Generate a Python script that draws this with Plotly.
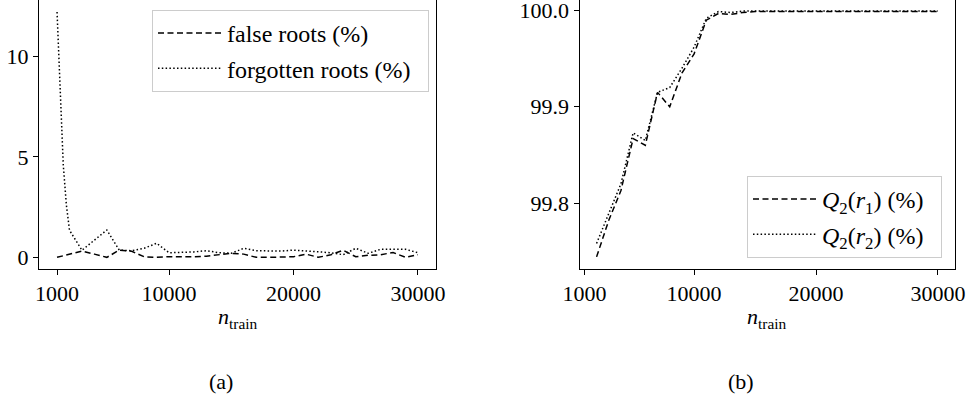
import plotly.graph_objects as go

# ---- data: left panel ----
x_false = [1000, 2000, 3000, 4000, 5000, 6000, 7000, 8000, 9000, 10000,
           11000, 12000, 13000, 14000, 15000, 16000, 17000, 18000, 19000, 20000,
           21000, 22000, 23000, 24000, 25000, 26000, 27000, 28000, 29000, 30000]
false_roots = [0.0, 0.16, 0.31, 0.16, 0.0, 0.36, 0.30, 0.03, 0.0, 0.03,
               0.02, 0.03, 0.06, 0.13, 0.2, 0.16, 0.0, 0.0, 0.03, 0.03,
               0.16, 0.0, 0.13, 0.35, 0.03, 0.1, 0.13, 0.24, 0.0, 0.13]

x_forgotten = [1000, 1250, 1500, 1750, 2000, 3000, 4000, 5000, 6000, 7000,
               8000, 9000, 10000, 11000, 12000, 13000, 14000, 15000, 16000, 17000,
               18000, 19000, 20000, 21000, 22000, 23000, 24000, 25000, 26000, 27000,
               28000, 29000, 30000]
forgotten_roots = [12.2, 8.0, 4.6, 2.6, 1.35, 0.35, 0.85, 1.36, 0.36, 0.33,
                   0.45, 0.7, 0.23, 0.25, 0.27, 0.33, 0.23, 0.2, 0.45, 0.33,
                   0.31, 0.31, 0.36, 0.31, 0.27, 0.23, 0.13, 0.45, 0.2, 0.4,
                   0.4, 0.4, 0.23]

# ---- data: right panel ----
x_q = [2000, 3000, 4000, 5000, 6000, 7000, 8000, 9000, 10000, 11000,
       12000, 13000, 14000, 15000, 16000, 17000, 18000, 19000, 20000, 21000,
       22000, 23000, 24000, 25000, 26000, 27000, 28000, 29000, 30000]
q2_r1 = [99.744, 99.782, 99.813, 99.867, 99.860, 99.915, 99.900, 99.935, 99.955, 99.990,
         99.997, 99.996, 99.998, 99.999, 99.999, 99.999, 99.999, 99.999, 99.999, 99.999,
         99.999, 99.999, 99.999, 99.999, 99.999, 99.999, 99.999, 99.999, 99.999]
q2_r2 = [99.758, 99.790, 99.820, 99.873, 99.865, 99.915, 99.920, 99.940, 99.962, 99.992,
         99.999, 99.998, 99.9995, 99.9995, 99.9995, 99.9995, 99.9995, 99.9995, 99.9995, 99.9995,
         99.9995, 99.9995, 99.9995, 99.9995, 99.9995, 99.9995, 99.9995, 99.9995, 99.9995]

x_ticks = [1000, 10000, 20000, 30000]
x_tick_labels = ["1000", "10000", "20000", "30000"]
left_y_ticks = [0, 5, 10]
left_y_labels = ["0", "5", "10"]
right_y_ticks = [99.8, 99.9, 100.0]
right_y_labels = ["99.8", "99.9", "100.0"]

W, H = 969, 400
FONT = "Liberation Serif"
FS = 22
LFS = 24
DASH = "6px,3.5px"
DOT = "1.5px,2.3px"
PAD = "&nbsp;&nbsp;"

fig = go.Figure()
fig.add_trace(go.Scatter(x=x_false, y=false_roots, mode="lines", name="false roots (%)" + PAD,
                         line=dict(color="black", width=1.5, dash=DASH), legendgroup="a",
                         xaxis="x", yaxis="y", legend="legend"))
fig.add_trace(go.Scatter(x=x_forgotten, y=forgotten_roots, mode="lines",
                         name="forgotten roots (%)" + PAD,
                         line=dict(color="black", width=1.5, dash=DOT), legendgroup="b",
                         xaxis="x", yaxis="y", legend="legend"))
fig.add_trace(go.Scatter(x=x_q, y=q2_r1, mode="lines",
                         name="<i>Q</i><sub>2</sub>(<i>r</i><sub>1</sub>) (%)" + PAD,
                         line=dict(color="black", width=1.5, dash=DASH), legendgroup="c",
                         xaxis="x2", yaxis="y2", legend="legend2"))
fig.add_trace(go.Scatter(x=x_q, y=q2_r2, mode="lines",
                         name="<i>Q</i><sub>2</sub>(<i>r</i><sub>2</sub>) (%)" + PAD,
                         line=dict(color="black", width=1.5, dash=DOT), legendgroup="d",
                         xaxis="x2", yaxis="y2", legend="legend2"))

def px_x(p):
    return p / W

def px_y(p):
    return 1 - p / H

axis_common = dict(showline=True, linecolor="black", linewidth=1, ticks="outside",
                   ticklen=5, tickwidth=1, tickcolor="black", showgrid=False,
                   zeroline=False, automargin=False, ticklabeloverflow="allow",
                   tickfont=dict(family=FONT, size=FS, color="black"))

legend_common = dict(bgcolor="rgba(255,255,255,0.8)", bordercolor="#cccccc", borderwidth=1,
                     font=dict(family=FONT, size=LFS, color="black"), itemwidth=64,
                     traceorder="grouped", tracegroupgap=1)

fig.update_layout(
    template="none",
    width=W, height=H,
    margin=dict(l=0, r=0, t=0, b=0, pad=0),
    paper_bgcolor="white", plot_bgcolor="white",
    font=dict(family=FONT, size=FS, color="black"),
    xaxis=dict(domain=[px_x(39), px_x(436)], range=[-450, 31450], tickvals=x_ticks,
               ticktext=x_tick_labels, anchor="y", **axis_common),
    yaxis=dict(domain=[px_y(269), 1], range=[-0.58, 12.80], tickvals=left_y_ticks,
               ticktext=left_y_labels, anchor="x", mirror=True, **axis_common),
    xaxis2=dict(domain=[px_x(579.5), px_x(955)], range=[600, 31400], tickvals=x_ticks,
                ticktext=x_tick_labels, anchor="y2", **axis_common),
    yaxis2=dict(domain=[px_y(269), 1], range=[99.7314, 100.011], tickvals=right_y_ticks,
                ticktext=right_y_labels, anchor="x2", mirror=True, **axis_common),
    legend=dict(x=px_x(152), y=px_y(10), xanchor="left", yanchor="top", **legend_common),
    legend2=dict(x=px_x(942), y=px_y(258), xanchor="right", yanchor="bottom", **legend_common),
    showlegend=True,
)

annots = [
    dict(text="<i>n</i><sub>train</sub>", x=px_x(237.5), y=px_y(318)),
    dict(text="<i>n</i><sub>train</sub>", x=px_x(767), y=px_y(318)),
    dict(text="(a)", x=px_x(221), y=px_y(381)),
    dict(text="(b)", x=px_x(741), y=px_y(381)),
]
for a in annots:
    fig.add_annotation(xref="paper", yref="paper", showarrow=False,
                       xanchor="center", yanchor="middle",
                       font=dict(family=FONT, size=FS, color="black"), **a)

# remove the page's default 8px body margin so the 969x400 figure fills the window
fig.write_html("out.html",
               config={"displayModeBar": False},
               post_script="document.body.style.margin='0';document.documentElement.style.overflow='hidden';document.body.style.overflow='hidden';")
